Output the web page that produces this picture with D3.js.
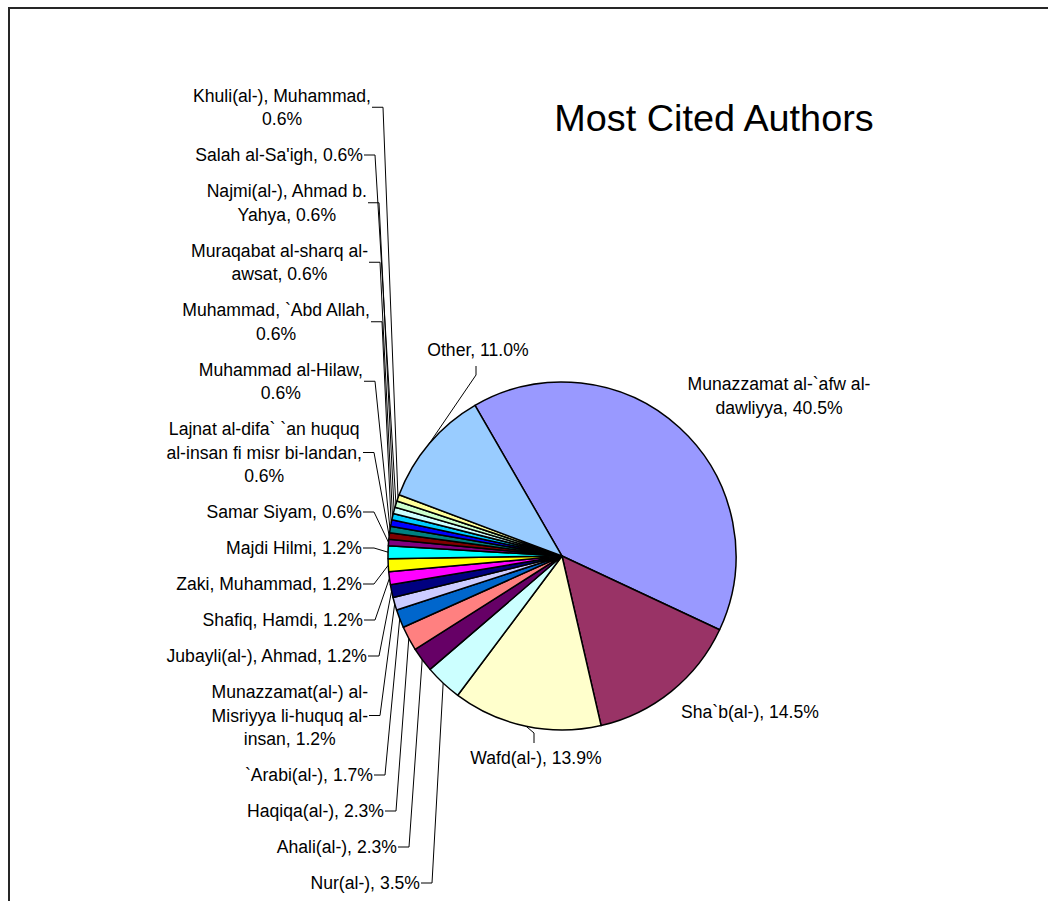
<!DOCTYPE html>
<html><head><meta charset="utf-8">
<script src="https://cdn.jsdelivr.net/npm/d3@7"></script>
<style>
body{margin:0;background:#fff}
svg{display:block}
text{font-family:"Liberation Sans",Arial,Helvetica,sans-serif;fill:#000}
</style>
</head><body>
<svg id="chart" width="1048" height="901"></svg>
<script>
// ---- data ----
const title = "Most Cited Authors";
const categories = [
  "Munazzamat al-`afw al-\ndawliyya",
  "Sha`b(al-)",
  "Wafd(al-)",
  "Nur(al-)",
  "Ahali(al-)",
  "Haqiqa(al-)",
  "`Arabi(al-)",
  "Munazzamat(al-) al-\nMisriyya li-huquq al-\ninsan",
  "Jubayli(al-), Ahmad",
  "Shafiq, Hamdi",
  "Zaki, Muhammad",
  "Majdi Hilmi",
  "Samar Siyam",
  "Lajnat al-difa` `an huquq\nal-insan fi misr bi-landan",
  "Muhammad al-Hilaw",
  "Muhammad, `Abd Allah",
  "Muraqabat al-sharq al-\nawsat",
  "Najmi(al-), Ahmad b.\nYahya",
  "Salah al-Sa'igh",
  "Khuli(al-), Muhammad",
  "Other"
];
const values = [40.5, 14.5, 13.9, 3.5, 2.3, 2.3, 1.7, 1.2, 1.2, 1.2, 1.2, 1.2,
                0.6, 0.6, 0.6, 0.6, 0.6, 0.6, 0.6, 0.6, 11.0];
const pctOnNewLine = [false,false,false,false,false,false,false,false,false,false,false,false,
                      false,true,true,true,false,false,false,true,false];
const colors = ["#9999FF","#993366","#FFFFCC","#CCFFFF","#660066","#FF8080","#0066CC","#CCCCFF",
                "#000080","#FF00FF","#FFFF00","#00FFFF","#800080","#800000","#008080","#0000FF",
                "#00CCFF","#CCFFFF","#CCFFCC","#FFFF99","#99CCFF"];

// ---- layout ----
const W = 1048, H = 901;
const cx = 562, cy = 556, R = 174;
const startDeg = -30;
const fontSize = 17.6;
const lineH = 23.5;
// right edge of left-side label boxes (index 3..19)
const leftLabelRight = {3:420,4:397,5:384,6:373,7:368,8:367,9:363,10:362,11:362,12:362,13:362,14:363,15:370,16:368,17:367,18:363,19:371};
// free-placed labels (center x, center y of block)
const freeLabels = {0:[779,396], 1:[750,712], 2:[536,758], 20:[478,350]};

const svg = d3.select("#chart");

svg.append("rect").attr("x",9).attr("y",8).attr("width",W+50).attr("height",H+50)
  .attr("fill","#fff").attr("stroke","#262626").attr("stroke-width",2);

svg.append("text").attr("x",714).attr("y",131).attr("text-anchor","middle")
  .style("font-size","37.8px").text(title);

const pie = d3.pie().sort(null).value(d=>d)
  .startAngle(startDeg*Math.PI/180).endAngle((startDeg+360)*Math.PI/180);
const arcs = pie(values);
const arc = d3.arc().innerRadius(0).outerRadius(R);

const g = svg.append("g").attr("transform",`translate(${cx},${cy})`);
g.selectAll("path").data(arcs).join("path")
  .attr("d",arc).attr("fill",(d,i)=>colors[i])
  .attr("stroke","#000").attr("stroke-width",1.5).attr("stroke-linejoin","round");

function edgePoint(a){ return [cx + R*Math.sin(a), cy - R*Math.cos(a)]; }
function labelLines(i){
  return (categories[i] + "," + (pctOnNewLine[i] ? "\n" : " ") + values[i].toFixed(1) + "%").split("\n");
}

const labelsG = svg.append("g");
const leadG = svg.append("g");

function drawLabel(i, centerX, centerY, lh){
  const lines = labelLines(i);
  const t = labelsG.append("text").style("font-size",fontSize+"px").attr("text-anchor","middle");
  const top = centerY - (lines.length-1)*lh/2;
  lines.forEach((s,k)=>{
    t.append("tspan").attr("x",centerX).attr("y",top + k*lh).attr("dy","0.35em").text(s);
  });
  return t;
}

// left stacked labels, from bottom (index 3) upward (index 19)
let nextBottom = null;
const gap = 12.5;
for (let i = 3; i <= 19; i++){
  const n = labelLines(i).length;
  const h = n*lineH;
  let centerY;
  if (nextBottom === null) centerY = 883;
  else centerY = nextBottom - h/2;
  nextBottom = centerY - h/2 - gap;
  const tmp = drawLabel(i, 0, centerY, lineH);
  let wmax = 0;
  tmp.selectAll("tspan").each(function(){ wmax = Math.max(wmax, this.getComputedTextLength()); });
  const right = leftLabelRight[i];
  const cxl = right - wmax/2;
  tmp.selectAll("tspan").attr("x", cxl);
  const a = (arcs[i].startAngle + arcs[i].endAngle)/2;
  const p = edgePoint(a);
  const pts = [[right+1, centerY],[right+12, centerY], p];
  leadG.append("path").attr("d", d3.line()(pts))
    .attr("fill","none").attr("stroke","#000").attr("stroke-width",1);
}

// free labels
Object.keys(freeLabels).forEach(k=>{
  const i = +k;
  const [x,y] = freeLabels[i];
  drawLabel(i, x, y, 24);
});

// leaders for Wafd (below pie) and Other (above pie)
[[2, +1],[20, -1]].forEach(([i, dir])=>{
  const [x,y] = freeLabels[i];
  const a = (arcs[i].startAngle + arcs[i].endAngle)/2;
  const p = edgePoint(a);
  const y0 = dir > 0 ? y - 15 : y + 16;
  const y1 = dir > 0 ? y0 - 10 : y0 + 9;
  leadG.append("path").attr("d", d3.line()([[x-2,y0],[x-2,y1],p]))
    .attr("fill","none").attr("stroke","#000").attr("stroke-width",1);
});
</script>
</body></html>
